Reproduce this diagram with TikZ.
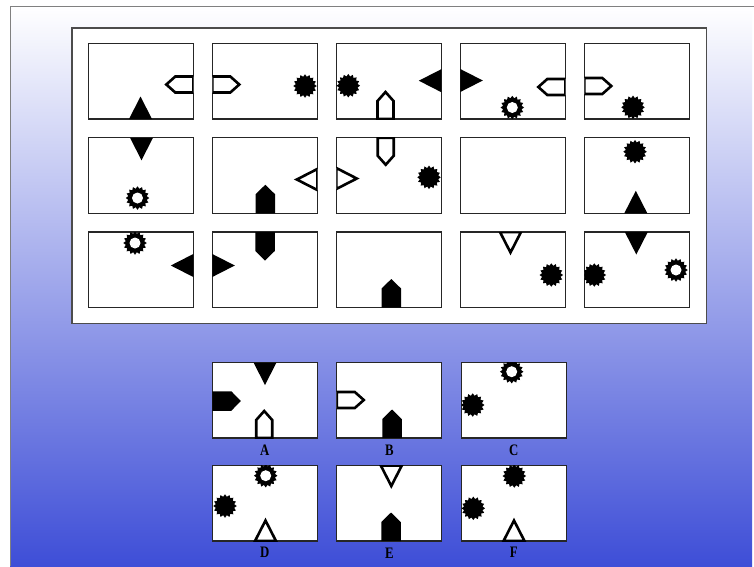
\documentclass[tikz,border=0pt]{standalone}
\usepackage{fontspec}
\usepackage{tikz}
\usetikzlibrary{positioning,shapes.geometric}
\newfontfamily\optfont[FakeStretch=0.8]{Liberation Serif}
\definecolor{bgmid}{RGB}{193,195,238}
\definecolor{bgbot}{RGB}{62,78,215}
\definecolor{frameline}{RGB}{128,128,128}

\begin{document}
\begin{tikzpicture}[
    x=1pt, y=-1pt,
    node distance=18.75pt and 19pt,
    board/.style={draw=black!70, line width=1.1pt, fill=white, minimum width=634.3pt, minimum height=295.3pt, inner sep=0pt, outer sep=0pt},
    cell/.style={draw=black!85, line width=1.1pt, fill=white, minimum width=105pt, minimum height=75.5pt, inner sep=0pt, outer sep=0pt},
    optlabel/.style={font=\optfont\bfseries\fontsize{16}{16}\selectfont, inner sep=0pt},
    bsun/.style={star, star points=16, star point ratio=1.25, minimum size=23.5pt, inner sep=0pt, fill=black},
    wsun/.style={bsun, minimum size=23.5pt, path picture={\fill[white] (path picture bounding box.center) circle (5.5pt);}},
    hollowshape/.style={draw=black, fill=white, line width=2.6pt},
    bhouse/.pic={\fill[black] (-9.75,0) -- (-9.75,-19) -- (0,-28.5) -- (9.75,-19) -- (9.75,0) -- cycle;},
    whouse/.pic={\draw[hollowshape] (-8,0) -- (-8,-18) -- (0,-27) -- (8,-18) -- (8,0) -- cycle;},
    btri/.pic={\fill[black] (-11.5,0) -- (0,-22.5) -- (11.5,0) -- cycle;},
    wtri/.pic={\draw[hollowshape] (-10.5,0) -- (0,-20.5) -- (10.5,0) -- cycle;}
  ]
    \useasboundingbox (0,0) rectangle (754,566);
    \fill[white] (0,0) rectangle (754,566);
    \shade[top color=white, middle color=bgmid, bottom color=bgbot] (10,6) rectangle (752,566);
    \draw[frameline, line width=1pt] (10,566) -- (10,6) -- (754,6);

    % puzzle board
    \node[board] (board) at (389.15,175.65) {};
    \node[cell, below right=15.5pt and 16.3pt of board.north west] (cell11) {};
    \node[cell, right=of cell11] (cell12) {};
    \node[cell, right=of cell12] (cell13) {};
    \node[cell, right=of cell13] (cell14) {};
    \node[cell, right=of cell14] (cell15) {};
    \node[cell, below=of cell11] (cell21) {};
    \node[cell, right=of cell21] (cell22) {};
    \node[cell, right=of cell22] (cell23) {};
    \node[cell, right=of cell23] (cell24) {};
    \node[cell, right=of cell24] (cell25) {};
    \node[cell, below=of cell21] (cell31) {};
    \node[cell, right=of cell31] (cell32) {};
    \node[cell, right=of cell32] (cell33) {};
    \node[cell, right=of cell33] (cell34) {};
    \node[cell, right=of cell34] (cell35) {};

    % answer options
    \node[cell, below=55pt of cell32] (optA) {};
    \node[cell, right=19.5pt of optA] (optB) {};
    \node[cell, right=19.5pt of optB] (optC) {};
    \node[cell, below=27.5pt of optA] (optD) {};
    \node[cell, right=19.5pt of optD] (optE) {};
    \node[cell, right=19.5pt of optE] (optF) {};

    \node[optlabel, below=7pt of optA] (labA) {A};
    \node[optlabel, below=7pt of optB] (labB) {B};
    \node[optlabel, below=7pt of optC] (labC) {C};
    \node[optlabel, below=6pt of optD] (labD) {D};
    \node[optlabel, below=7pt of optE] (labE) {E};
    \node[optlabel, below=6pt of optF] (labF) {F};

    % row 1
    \begin{scope}
      \clip (cell11.south west) rectangle (cell11.north east);
      \pic[rotate=90] at (193.3,84.5) {whouse};
      \pic at (140.5,119) {btri};
    \end{scope}
    \begin{scope}
      \clip (cell12.south west) rectangle (cell12.north east);
      \pic[rotate=-90] at (212.3,84.5) {whouse};
      \node[bsun] (sun12) at (305,86) {};
    \end{scope}
    \begin{scope}
      \clip (cell13.south west) rectangle (cell13.north east);
      \node[bsun] (sun13) at (348.3,85.7) {};
      \pic at (385.5,119) {whouse};
      \pic[rotate=90] at (441.3,80.7) {btri};
    \end{scope}
    \begin{scope}
      \clip (cell14.south west) rectangle (cell14.north east);
      \pic[rotate=-90] at (460.3,80.5) {btri};
      \node[wsun] (sun14) at (512.3,107.5) {};
      \pic[rotate=90] at (565.3,87) {whouse};
    \end{scope}
    \begin{scope}
      \clip (cell15.south west) rectangle (cell15.north east);
      \pic[rotate=-90] at (584.3,86) {whouse};
      \node[bsun] (sun15) at (633,107.3) {};
    \end{scope}

    % row 2
    \begin{scope}
      \clip (cell21.south west) rectangle (cell21.north east);
      \pic[rotate=180] at (141.5,137.75) {btri};
      \node[wsun] (sun21) at (137.5,198) {};
    \end{scope}
    \begin{scope}
      \clip (cell22.south west) rectangle (cell22.north east);
      \pic at (265.3,213.25) {bhouse};
      \pic[rotate=90] at (317.3,179.5) {wtri};
    \end{scope}
    \begin{scope}
      \clip (cell23.south west) rectangle (cell23.north east);
      \pic[rotate=180] at (385.7,137.75) {whouse};
      \pic[rotate=-90] at (336.3,178.5) {wtri};
      \node[bsun] (sun23) at (429,177.3) {};
    \end{scope}
    \begin{scope}
      \clip (cell25.south west) rectangle (cell25.north east);
      \node[bsun] (sun25) at (635,151.7) {};
      \pic at (635.8,213.25) {btri};
    \end{scope}

    % row 3
    \begin{scope}
      \clip (cell31.south west) rectangle (cell31.north east);
      \node[wsun] (sun31) at (135,243) {};
      \pic[rotate=90] at (193.3,265.5) {btri};
    \end{scope}
    \begin{scope}
      \clip (cell32.south west) rectangle (cell32.north east);
      \pic[rotate=180] at (265,232) {bhouse};
      \pic[rotate=-90] at (212.3,265.5) {btri};
    \end{scope}
    \begin{scope}
      \clip (cell33.south west) rectangle (cell33.north east);
      \pic at (391.3,307.5) {bhouse};
    \end{scope}
    \begin{scope}
      \clip (cell34.south west) rectangle (cell34.north east);
      \pic[rotate=180] at (510.5,232) {wtri};
      \node[bsun] (sun34) at (551.3,275) {};
    \end{scope}
    \begin{scope}
      \clip (cell35.south west) rectangle (cell35.north east);
      \pic[rotate=180] at (636.3,232) {btri};
      \node[bsun] (sun35a) at (594.3,275) {};
      \node[wsun] (sun35b) at (676,270) {};
    \end{scope}

    % options
    \begin{scope}
      \clip (optA.south west) rectangle (optA.north east);
      \pic[rotate=180] at (265,362.5) {btri};
      \pic[rotate=-90] at (212.3,401) {bhouse};
      \pic at (264.2,438) {whouse};
    \end{scope}
    \begin{scope}
      \clip (optB.south west) rectangle (optB.north east);
      \pic[rotate=-90] at (336.8,400) {whouse};
      \pic at (392,438) {bhouse};
    \end{scope}
    \begin{scope}
      \clip (optC.south west) rectangle (optC.north east);
      \node[wsun] (sunCa) at (511.7,371.7) {};
      \node[bsun] (sunCb) at (472.7,405) {};
    \end{scope}
    \begin{scope}
      \clip (optD.south west) rectangle (optD.north east);
      \node[wsun] (sunDa) at (265.7,475.7) {};
      \node[bsun] (sunDb) at (225,506) {};
      \pic at (265.5,541) {wtri};
    \end{scope}
    \begin{scope}
      \clip (optE.south west) rectangle (optE.north east);
      \pic[rotate=180] at (391.3,465.5) {wtri};
      \pic at (391,541) {bhouse};
    \end{scope}
    \begin{scope}
      \clip (optF.south west) rectangle (optF.north east);
      \node[bsun] (sunFa) at (514.3,476) {};
      \node[bsun] (sunFb) at (473.3,508.3) {};
      \pic at (514,541) {wtri};
    \end{scope}

  \end{tikzpicture}
\end{document}
